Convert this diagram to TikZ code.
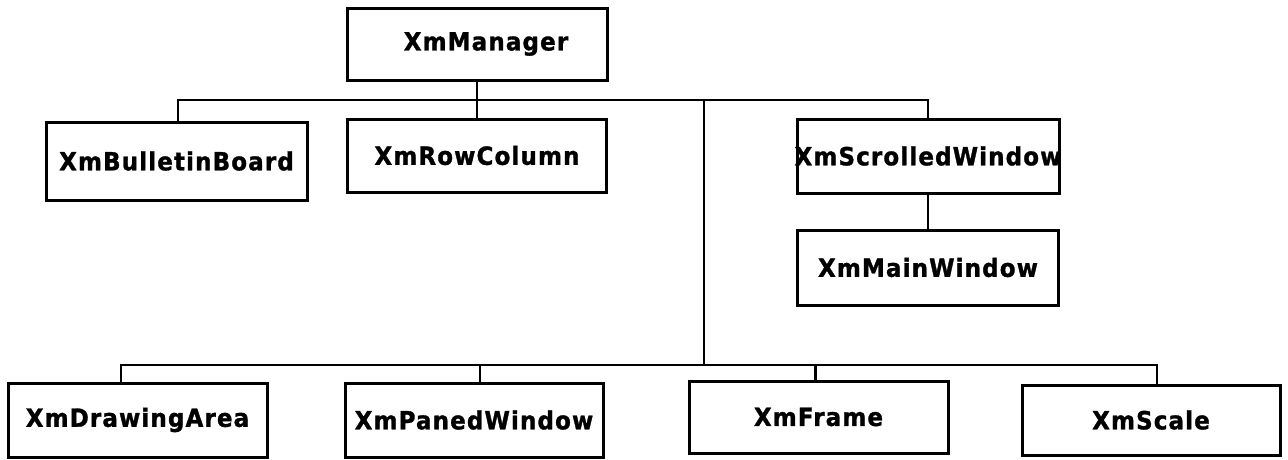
\documentclass[tikz,border=0pt]{standalone}
\usepackage{fontspec}
\setmainfont{DejaVu Sans}
\newfontfamily\boxfont[LetterSpace=4.5,FakeStretch=0.92,FakeBold=1.2]{DejaVu Sans Bold}
\begin{document}
\begin{tikzpicture}[x=1pt,y=-1pt,
  cls/.style={draw=black, line width=3pt, fill=white, inner sep=0pt,
    font=\boxfont\fontsize{25}{25}\selectfont, text=black},
  link/.style={draw=black, line width=2.8pt}]
\useasboundingbox (0,0) rectangle (1288,459);

% class boxes
\node[cls, minimum width=260pt, minimum height=72pt] (mgr) at (477,44) {\hspace{18pt}XmManager};
\node[cls, minimum width=261pt, minimum height=78pt] (bb)  at (176.5,161) {XmBulletinBoard};
\node[cls, minimum width=259pt, minimum height=73pt] (rc)  at (477,155.5) {XmRowColumn};
% the long name runs over the frame, so its width is not counted
\node[cls, minimum width=262pt, minimum height=74pt] (sw)  at (928,156) {\makebox[0pt]{XmScrolledWindow}};
\node[cls, minimum width=261pt, minimum height=75pt] (mw)  at (928,267.5) {XmMainWindow};
\node[cls, minimum width=259pt, minimum height=74pt] (da)  at (137.5,420) {XmDrawingArea};
\node[cls, minimum width=258pt, minimum height=74pt] (pw)  at (474,420) {XmPanedWindow};
\node[cls, minimum width=259pt, minimum height=72pt] (fr)  at (818.5,417) {XmFrame};
\node[cls, minimum width=258pt, minimum height=70pt] (sc)  at (1151,420) {XmScale};

% junction points of the two buses
\coordinate (top) at (477,100);
\coordinate (j1)  at (704,100);
\coordinate (j2)  at (704,365);

% upper bus
\draw[link] (mgr.south) -- (rc.north);
\draw[link] ([xshift=1.5pt]bb.north) |- (top);
\draw[link] (sw.north) |- (top);
\draw[link] (sw.south) -- (mw.north);

% trunk down to the lower bus
\draw[link] (j1) -- (j2);

% lower bus
\draw[link] ([xshift=-16.5pt]da.north) |- (j2);
\draw[link] ([xshift=6pt]sc.north) |- (j2);
\coordinate (pwtop) at ([xshift=6pt]pw.north);
\coordinate (frtop) at ([xshift=-3pt]fr.north);
\draw[link] (pwtop) -- (pwtop |- j2);
\draw[link] (frtop) -- (frtop |- j2);
\end{tikzpicture}
\end{document}
